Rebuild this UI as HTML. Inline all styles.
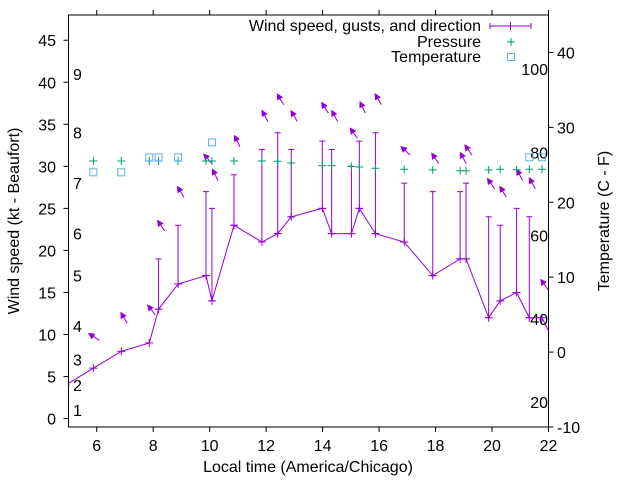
<!DOCTYPE html>
<html><head><meta charset="utf-8"><style>
html,body{margin:0;padding:0;background:#fff}
svg{display:block;font-family:"Liberation Sans",Arial,sans-serif}
</style></head><body>
<svg id="chart" width="640" height="480" viewBox="0 0 640 480" xmlns="http://www.w3.org/2000/svg">
<defs><clipPath id="plotclip"><rect x="68.5" y="15" width="480" height="412"/></clipPath></defs>
<rect width="640" height="480" fill="#fff"/>
<g id="axes"></g>
<g id="series" clip-path="url(#plotclip)"></g>
<g id="legend"></g>
</svg>
<script>
const hours = [4.9,5.88,6.87,7.86,8.19,8.88,9.87,10.08,10.86,11.85,12.41,12.89,13.99,14.32,15.02,15.3,15.87,16.89,17.9,18.87,19.08,19.88,20.29,20.87,21.32,21.77,22.5];
const speed = [4,6,8,9,13,16,17,14,23,21,22,24,25,22,22,25,22,21,17,19,19,12,14,15,12,12,7];
const gust = [4,6,8,9,19,23,27,25,29,32,34,32,33,32,30,33,34,28,27,27,28,24,23,25,24,12,7];
const direction = [140,122,149,143,146,148,139,154,154,152,149,150,148,152,145,155,150,133,146,152,145,145,150,152,151,145,145];
const pressure = [null,30.64,30.64,30.64,30.64,30.64,30.64,30.64,30.64,30.64,30.6,30.4,30.08,30.08,30.0,29.92,29.77,29.65,29.57,29.48,29.48,29.57,29.65,29.6,29.65,29.65,null];
const tempHours = [5.88,6.87,7.86,8.19,8.88,10.08,21.32,21.77];
const tempC = [24,24,26,26,26,28,26,26];
const xTicks = [6,8,10,12,14,16,18,20,22];
const yTicks = [0,5,10,15,20,25,30,35,40,45];
const y2Ticks = [-10,0,10,20,30,40];
const fTicks = [20,40,60,80,100];
const beaufortKt = [1,4,7,11,17,22,28,34,41];

const NS='http://www.w3.org/2000/svg';
const L=68.5,R=548.5,T=15,B=427;
const X=h=>L+(h-5)*(R-L)/17;
const Y=v=>B-(v+1)*(B-T)/49;
const Y2=c=>B-(c+10)*(B-T)/55;
const PUR='#9400d3',GRN='#009e73',BLU='#56b4e9';
const FS=16;
function mk(tag,attrs,parent,text){const e=document.createElementNS(NS,tag);for(const k in attrs)e.setAttribute(k,attrs[k]);if(text!=null)e.textContent=text;parent.appendChild(e);return e;}
const ax=document.getElementById('axes'),se=document.getElementById('series'),lg=document.getElementById('legend');

let e;
e=mk('rect',{x:L,y:T,width:R-L,height:B-T,fill:'none',stroke:'#000','stroke-width':1},ax);


xTicks.forEach(t=>{
  e=mk('line',{x1:X(t),x2:X(t),y1:B,y2:B+5,stroke:'#000'},ax);
  
  
  e=mk('line',{x1:X(t),x2:X(t),y1:T,y2:T-5,stroke:'#000'},ax);
  
  
  e=mk('text',{x:X(t),y:B+24,'text-anchor':'middle','font-size':FS},ax,String(t));
  
  
});
yTicks.forEach(t=>{
  e=mk('line',{x1:L,x2:L-5,y1:Y(t),y2:Y(t),stroke:'#000'},ax);
  
  
  e=mk('text',{x:56,y:Y(t)+6,'text-anchor':'end','font-size':FS},ax,String(t));
  
  
});
y2Ticks.forEach(t=>{
  e=mk('line',{x1:R,x2:R+5,y1:Y2(t),y2:Y2(t),stroke:'#000'},ax);
  
  
  e=mk('text',{x:557,y:Y2(t)+6,'text-anchor':'start','font-size':FS},ax,String(t));
  
  
});
fTicks.forEach(f=>{
  e=mk('text',{x:548,y:Y2((f-32)*5/9)+6,'text-anchor':'end','font-size':FS},ax,String(f));
  
  
});
beaufortKt.forEach((k,i)=>{
  e=mk('text',{x:73,y:Y(k)+6,'font-size':FS},ax,String(i+1));
  
  
});
e=mk('text',{x:308,y:472,'text-anchor':'middle','font-size':FS},ax,'Local time (America/Chicago)');


e=mk('text',{x:0,y:0,'text-anchor':'middle','font-size':FS,transform:'translate(19,221) rotate(-90)'},ax,'Wind speed (kt - Beaufort)');


e=mk('text',{x:0,y:0,'text-anchor':'middle','font-size':FS,transform:'translate(609,221) rotate(-90)'},ax,'Temperature (C - F)');



e=mk('polyline',{points:hours.map((h,i)=>X(h)+','+Y(speed[i])).join(' '),fill:'none',stroke:PUR,'stroke-width':1},se);


hours.forEach((h,i)=>{
  const x=X(h),ys=Y(speed[i]),yg=Y(gust[i]);
  if(gust[i]>speed[i]){
    e=mk('path',{d:`M${x},${ys}V${yg}M${x-3},${yg}h6M${x-3},${ys}h6`,stroke:PUR,fill:'none'},se);
    
    
  }
  e=mk('path',{d:`M${x-4},${ys}h8M${x},${ys-4}v8`,stroke:PUR,fill:'none'},se);
  
  
  if(h>=5){
    const tx=x+6,ty=yg-28;
    const a=(direction[i]+180)*Math.PI/180;
    const ux=Math.sin(a),uy=-Math.cos(a);
    const hx=tx+13*ux,hy=ty+13*uy;
    const bx=hx-6*ux,by=hy-6*uy,px=-uy,py=ux;
    e=mk('line',{x1:tx,y1:ty,x2:bx,y2:by,stroke:PUR},se);
    
    
    e=mk('polygon',{points:`${hx},${hy} ${bx+3*px},${by+3*py} ${bx-3*px},${by-3*py}`,fill:PUR,stroke:PUR,'stroke-width':0.5},se);
    
    
  }
});
hours.forEach((h,i)=>{
  if(pressure[i]==null)return;
  const x=X(h),y=Y(pressure[i]);
  e=mk('path',{d:`M${x-4},${y}h8M${x},${y-4}v8`,stroke:GRN,fill:'none'},se);
  
  
});
tempHours.forEach((h,i)=>{
  const x=X(h),y=Y2(tempC[i]);
  e=mk('rect',{x:x-3.5,y:y-3.5,width:7,height:7,fill:'none',stroke:BLU},se);
  
  
});
const lt=[['Wind speed, gusts, and direction',25],['Pressure',41],['Temperature',56]];
lt.forEach(([t,y])=>{
  e=mk('text',{x:481,y:y+6,'text-anchor':'end','font-size':FS},lg,t);
  
  
});
e=mk('path',{d:'M490,26H531M490,23v6M531,23v6M510.5,22v8',stroke:PUR,fill:'none'},lg);


e=mk('path',{d:'M507,42h8M511,38v8',stroke:GRN,fill:'none'},lg);


e=mk('rect',{x:507.5,y:53.5,width:7,height:7,fill:'none',stroke:BLU},lg);


</script>
</body></html>
